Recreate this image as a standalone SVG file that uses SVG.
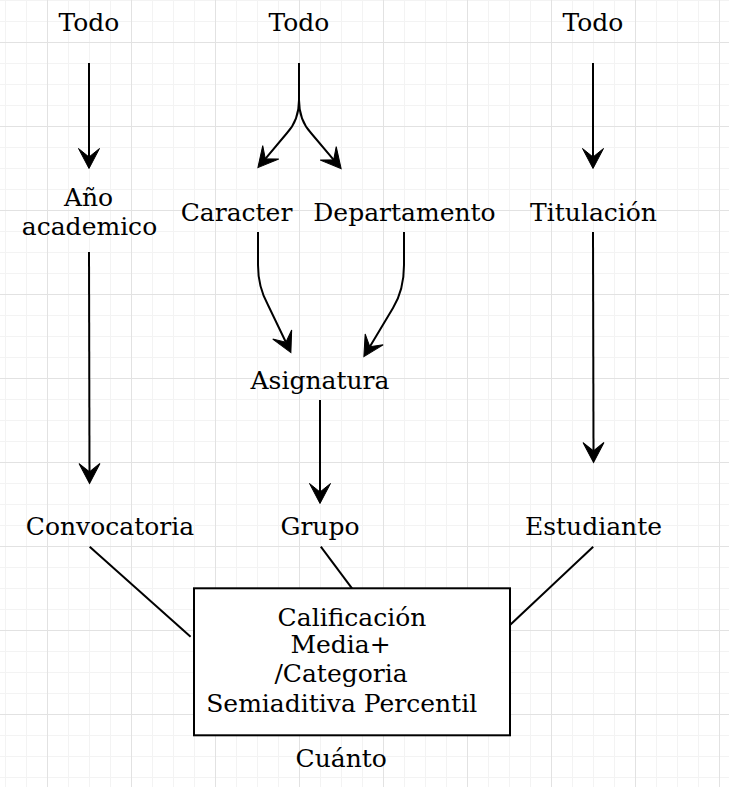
<svg xmlns="http://www.w3.org/2000/svg" width="729" height="787" viewBox="0 0 729 787">
  <defs>
    <pattern id="grid" patternUnits="userSpaceOnUse" x="-37" y="-42" width="84" height="84">
      <rect x="21" y="0" width="1" height="84" fill="#f3f3f3"/>
      <rect x="42" y="0" width="1" height="84" fill="#f3f3f3"/>
      <rect x="63" y="0" width="1" height="84" fill="#f3f3f3"/>
      <rect x="0" y="21" width="84" height="1" fill="#f3f3f3"/>
      <rect x="0" y="42" width="84" height="1" fill="#f3f3f3"/>
      <rect x="0" y="63" width="84" height="1" fill="#f3f3f3"/>
      <rect x="0" y="0" width="1" height="84" fill="#e2e2e2"/>
      <rect x="0" y="0" width="84" height="1" fill="#e2e2e2"/>
    </pattern>
    <marker id="arrow" markerUnits="userSpaceOnUse" viewBox="-10 -12 24 24" refX="0" refY="0" markerWidth="24" markerHeight="24" orient="auto">
      <path d="M11.5,0 L-8.5,-10.5 L0,0 L-8.5,10.5 Z" fill="#000" stroke="#000" stroke-width="1" stroke-linejoin="miter"/>
    </marker>
  </defs>
  <style>
    text { font-family: "DejaVu Serif", "Liberation Serif", serif; font-size: 25px; fill: #000; text-anchor: middle; }
    .edge { fill: none; stroke: #000; stroke-width: 2; }
    .arr { marker-end: url(#arrow); }
    .box { fill: #fff; stroke: #000; stroke-width: 2; }
  </style>
  <rect width="729" height="787" fill="#fff"/>
  <rect width="729" height="787" fill="url(#grid)"/>

  <g id="connectors">
    <path class="edge arr" d="M89,63 L89,157"/>
    <path class="edge arr" d="M299,63 L299,100 Q299,120 287,133 L265.3,158.8"/>
    <path class="edge arr" d="M299,63 L299,100 Q299,120 311,133 L333.7,159.8"/>
    <path class="edge arr" d="M593,63 L593,157"/>
    <path class="edge arr" d="M89,252 L89.5,472"/>
    <path class="edge arr" d="M258,232 L258,265 Q258,287 268,305 L285.9,342.2"/>
    <path class="edge arr" d="M404,232 L404,265 Q404,290 393,308 L369.8,346.7"/>
    <path class="edge arr" d="M593,232 L593.5,451"/>
    <path class="edge arr" d="M320,400 L320,492"/>
    <path class="edge" d="M89.7,546.7 L190.6,636.7"/>
    <path class="edge" d="M320.8,546.7 L352,588.3"/>
    <path class="edge" d="M593.2,546.7 L510,625"/>
  </g>

  <g id="todo1"><text x="89" y="31">Todo</text></g>
  <g id="todo2"><text x="299" y="31">Todo</text></g>
  <g id="todo3"><text x="593" y="31">Todo</text></g>
  <g id="anio"><text x="88.5" y="206">Año</text><text x="89.5" y="235">academico</text></g>
  <g id="caracter"><text x="236.5" y="221">Caracter</text></g>
  <g id="departamento"><text x="404.5" y="221">Departamento</text></g>
  <g id="titulacion"><text x="593.5" y="221">Titulación</text></g>
  <g id="asignatura"><text x="320" y="389">Asignatura</text></g>
  <g id="convocatoria"><text x="110" y="535">Convocatoria</text></g>
  <g id="grupo"><text x="320" y="535">Grupo</text></g>
  <g id="estudiante"><text x="593.5" y="535">Estudiante</text></g>
  <g id="calificacion">
    <rect class="box" x="194" y="588.3" width="316" height="147"/>
    <text x="352" y="626">Calificación</text>
    <text x="340.5" y="652.7">Media+</text>
    <text x="341" y="681.7">/Categoria</text>
    <text x="341.7" y="711.7">Semiaditiva Percentil</text>
    <text x="341.2" y="766.7">Cuánto</text>
  </g>
</svg>
